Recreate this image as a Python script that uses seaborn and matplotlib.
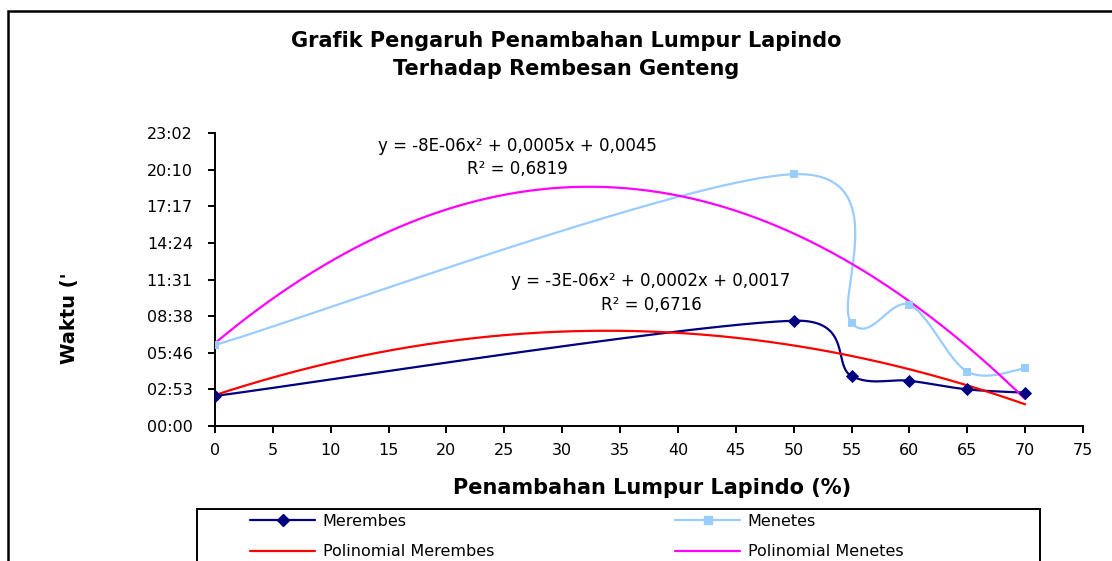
import numpy as np
import matplotlib
matplotlib.use("Agg")
import matplotlib.pyplot as plt
import seaborn as sns
from matplotlib.lines import Line2D
from matplotlib.patches import Rectangle

# ---------------- data ----------------
x_pct = [0, 50, 55, 60, 65, 70]
# time values as fraction of a day (Excel time)
merembes = [0.00164, 0.00575, 0.00273, 0.00247, 0.00200, 0.00182]
menetes = [0.00442, 0.01375, 0.00563, 0.00661, 0.00297, 0.00315]
series_names = ["Merembes", "Menetes", "Polinomial Merembes", "Polinomial Menetes"]
y_tick_values = [0.000, 0.002, 0.004, 0.006, 0.008, 0.010, 0.012, 0.014, 0.016]
y_tick_labels = ["00:00", "02:53", "05:46", "08:38", "11:31", "14:24", "17:17", "20:10", "23:02"]
x_tick_values = list(range(0, 80, 5))
eq_menetes = "y = -8E-06x² + 0,0005x + 0,0045"
r2_menetes = "R² = 0,6819"
eq_merembes = "y = -3E-06x² + 0,0002x + 0,0017"
r2_merembes = "R² = 0,6716"
title_text = "Grafik Pengaruh Penambahan Lumpur Lapindo\nTerhadap Rembesan Genteng"
xlabel_text = "Penambahan Lumpur Lapindo (%)"
ylabel_text = "Waktu ('"

c_merembes = "#000080"
c_menetes = "#99CCFF"
c_poly_merembes = "#FF0000"
c_poly_menetes = "#FF00FF"

W, H = 1112, 561

sns.set_theme(style="white")
plt.rcParams["font.family"] = ["DejaVu Sans"]
plt.rcParams["text.color"] = "black"

fig = plt.figure(figsize=(W / 100, H / 100), dpi=100)
ax = fig.add_axes([215 / W, 1 - 426 / H, (1083 - 215) / W, (426 - 133) / H])
ax.set_xlim(0, 75)
ax.set_ylim(0, 0.016)


def excel_smooth(ax, xs, ys, n=80):
    pts = ax.transData.transform(np.column_stack([xs, ys]))
    P = np.vstack([pts[0], pts, pts[-1]])
    out = []
    for i in range(1, len(P) - 2):
        p0, p1, p2, p3 = P[i - 1], P[i], P[i + 1], P[i + 2]
        seg = np.linalg.norm(p2 - p1)
        t1 = (p2 - p0) / 6.0
        t2 = (p3 - p1) / 6.0
        lim = 0.75 * seg
        for t in (t1, t2):
            nt = np.linalg.norm(t)
            if nt > lim and nt > 0:
                t *= lim / nt
        c1 = p1 + t1
        c2 = p2 - t2
        t = np.linspace(0, 1, n)[:, None]
        b = (1 - t) ** 3 * p1 + 3 * (1 - t) ** 2 * t * c1 + 3 * (1 - t) * t ** 2 * c2 + t ** 3 * p2
        out.append(b if i == 1 else b[1:])
    pts = np.vstack(out)
    return ax.transData.inverted().transform(pts)


lw = 1.6
# smoothed series
for ys, col in ((merembes, c_merembes), (menetes, c_menetes)):
    sm = excel_smooth(ax, x_pct, ys)
    sns.lineplot(x=sm[:, 0], y=sm[:, 1], ax=ax, sort=False, estimator=None,
                 color=col, lw=lw, zorder=3)

# polynomial trendlines
xfit = np.linspace(0, 70, 300)
for ys, col in ((merembes, c_poly_merembes), (menetes, c_poly_menetes)):
    coef = np.polyfit(x_pct, ys, 2)
    sns.lineplot(x=xfit, y=np.polyval(coef, xfit), ax=ax, sort=False, estimator=None,
                 color=col, lw=lw, zorder=4)

# markers
sns.scatterplot(x=x_pct, y=merembes, ax=ax, marker="D", s=45, color=c_merembes,
                edgecolor=c_merembes, linewidth=0, zorder=5)
sns.scatterplot(x=x_pct, y=menetes, ax=ax, marker="s", s=40, color=c_menetes,
                edgecolor=c_menetes, linewidth=0, zorder=5)

# axes styling
for s in ("top", "right"):
    ax.spines[s].set_visible(False)
for s in ("left", "bottom"):
    ax.spines[s].set_color("black")
    ax.spines[s].set_linewidth(1.4)
ax.set_xticks(x_tick_values)
ax.set_xticklabels([str(v) for v in x_tick_values])
ax.set_yticks(y_tick_values)
ax.set_yticklabels(y_tick_labels)
ax.tick_params(axis="both", which="major", bottom=True, left=True, direction="out",
               length=5, width=1.4, color="black", labelsize=11.5, labelcolor="black")
ax.tick_params(axis="x", pad=7)
ax.tick_params(axis="y", pad=11)
ax.set_xlabel("")
ax.set_ylabel("")
ax.grid(False)

# labels & title
fig.text(566 / W, 1 - 55 / H, title_text, ha="center", va="center", color="black",
         fontsize=15, fontweight="bold", linespacing=1.45)
fig.text(652 / W, 1 - 488 / H, xlabel_text, ha="center", va="center", color="black",
         fontsize=15, fontweight="bold")
fig.text(70 / W, 1 - 318 / H, ylabel_text, ha="center", va="center", color="black",
         fontsize=14, fontweight="bold", rotation=90)

# trendline equations
fig.text(517 / W, 1 - 146 / H, eq_menetes, ha="center", va="center", fontsize=12, color="black")
fig.text(517 / W, 1 - 169 / H, r2_menetes, ha="center", va="center", fontsize=12, color="black")
fig.text(651 / W, 1 - 281 / H, eq_merembes, ha="center", va="center", fontsize=12, color="black")
fig.text(651 / W, 1 - 305 / H, r2_merembes, ha="center", va="center", fontsize=12, color="black")

# outer chart frame
fig.patches.append(Rectangle((8 / W, -0.2), 1.2, 1.2 - 11 / H,
                             transform=fig.transFigure, fill=False,
                             edgecolor="black", lw=1.8, zorder=0))
# legend box
fig.patches.append(Rectangle((197 / W, -0.2), (1040 - 197) / W, 0.2 + 1 - 509 / H,
                             transform=fig.transFigure, fill=False,
                             edgecolor="black", lw=1.4, zorder=1))

h_mer = Line2D([], [], color=c_merembes, lw=lw, marker="D", markersize=6.5)
h_men = Line2D([], [], color=c_menetes, lw=lw, marker="s", markersize=6)
h_pmer = Line2D([], [], color=c_poly_merembes, lw=lw)
h_pmen = Line2D([], [], color=c_poly_menetes, lw=lw)

leg_kw = dict(frameon=False, fontsize=11.5, handlelength=4.1, handletextpad=0.45,
              labelspacing=0.95, borderpad=0, borderaxespad=0, loc="upper left",
              labelcolor="black")
leg1 = fig.legend([h_mer, h_pmer], [series_names[0], series_names[2]],
                  bbox_to_anchor=(250 / W, 1 - 514 / H), **leg_kw)
leg2 = fig.legend([h_men, h_pmen], [series_names[1], series_names[3]],
                  bbox_to_anchor=(675 / W, 1 - 514 / H), **leg_kw)

fig.savefig("out.png", dpi=100, facecolor="white")
